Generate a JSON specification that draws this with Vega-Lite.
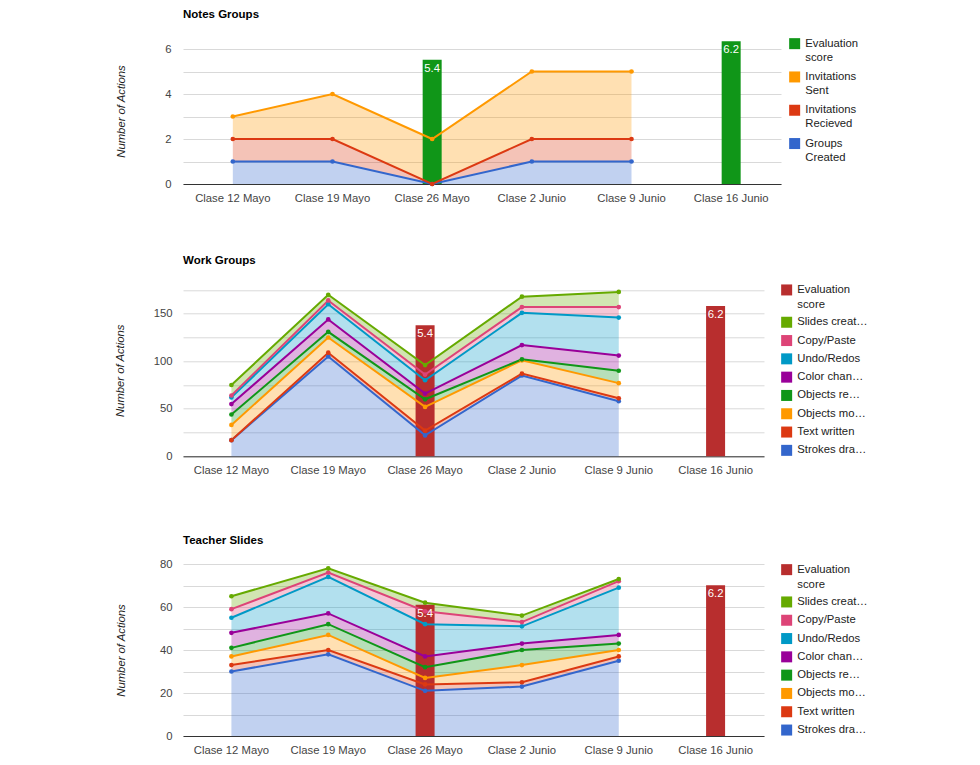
{
  "$schema": "https://vega.github.io/schema/vega-lite/v6.json",
  "padding": {"left": 114, "top": 8, "right": 0, "bottom": 0},
  "background": "white",
  "datasets": {
    "notes": [
      {"c": "Clase 12 Mayo", "s": "Groups Created", "k": 0, "v": 1},
      {"c": "Clase 12 Mayo", "s": "Invitations Recieved", "k": 1, "v": 1},
      {"c": "Clase 12 Mayo", "s": "Invitations Sent", "k": 2, "v": 1},
      {"c": "Clase 19 Mayo", "s": "Groups Created", "k": 0, "v": 1},
      {"c": "Clase 19 Mayo", "s": "Invitations Recieved", "k": 1, "v": 1},
      {"c": "Clase 19 Mayo", "s": "Invitations Sent", "k": 2, "v": 2},
      {"c": "Clase 26 Mayo", "s": "Groups Created", "k": 0, "v": 0},
      {"c": "Clase 26 Mayo", "s": "Invitations Recieved", "k": 1, "v": 0},
      {"c": "Clase 26 Mayo", "s": "Invitations Sent", "k": 2, "v": 2},
      {"c": "Clase 2 Junio", "s": "Groups Created", "k": 0, "v": 1},
      {"c": "Clase 2 Junio", "s": "Invitations Recieved", "k": 1, "v": 1},
      {"c": "Clase 2 Junio", "s": "Invitations Sent", "k": 2, "v": 3},
      {"c": "Clase 9 Junio", "s": "Groups Created", "k": 0, "v": 1},
      {"c": "Clase 9 Junio", "s": "Invitations Recieved", "k": 1, "v": 1},
      {"c": "Clase 9 Junio", "s": "Invitations Sent", "k": 2, "v": 3}
    ],
    "work": [
      {"c": "Clase 12 Mayo", "s": "Strokes dra…", "k": 0, "v": 17},
      {"c": "Clase 12 Mayo", "s": "Text written", "k": 1, "v": 0},
      {"c": "Clase 12 Mayo", "s": "Objects mo…", "k": 2, "v": 16},
      {"c": "Clase 12 Mayo", "s": "Objects re…", "k": 3, "v": 11},
      {"c": "Clase 12 Mayo", "s": "Color chan…", "k": 4, "v": 11},
      {"c": "Clase 12 Mayo", "s": "Undo/Redos", "k": 5, "v": 7},
      {"c": "Clase 12 Mayo", "s": "Copy/Paste", "k": 6, "v": 2},
      {"c": "Clase 12 Mayo", "s": "Slides creat…", "k": 7, "v": 11},
      {"c": "Clase 19 Mayo", "s": "Strokes dra…", "k": 0, "v": 105},
      {"c": "Clase 19 Mayo", "s": "Text written", "k": 1, "v": 4},
      {"c": "Clase 19 Mayo", "s": "Objects mo…", "k": 2, "v": 16},
      {"c": "Clase 19 Mayo", "s": "Objects re…", "k": 3, "v": 6},
      {"c": "Clase 19 Mayo", "s": "Color chan…", "k": 4, "v": 13},
      {"c": "Clase 19 Mayo", "s": "Undo/Redos", "k": 5, "v": 16},
      {"c": "Clase 19 Mayo", "s": "Copy/Paste", "k": 6, "v": 4},
      {"c": "Clase 19 Mayo", "s": "Slides creat…", "k": 7, "v": 6},
      {"c": "Clase 26 Mayo", "s": "Strokes dra…", "k": 0, "v": 22},
      {"c": "Clase 26 Mayo", "s": "Text written", "k": 1, "v": 5},
      {"c": "Clase 26 Mayo", "s": "Objects mo…", "k": 2, "v": 25},
      {"c": "Clase 26 Mayo", "s": "Objects re…", "k": 3, "v": 8},
      {"c": "Clase 26 Mayo", "s": "Color chan…", "k": 4, "v": 6},
      {"c": "Clase 26 Mayo", "s": "Undo/Redos", "k": 5, "v": 14},
      {"c": "Clase 26 Mayo", "s": "Copy/Paste", "k": 6, "v": 6},
      {"c": "Clase 26 Mayo", "s": "Slides creat…", "k": 7, "v": 10},
      {"c": "Clase 2 Junio", "s": "Strokes dra…", "k": 0, "v": 85},
      {"c": "Clase 2 Junio", "s": "Text written", "k": 1, "v": 2},
      {"c": "Clase 2 Junio", "s": "Objects mo…", "k": 2, "v": 14},
      {"c": "Clase 2 Junio", "s": "Objects re…", "k": 3, "v": 1},
      {"c": "Clase 2 Junio", "s": "Color chan…", "k": 4, "v": 15},
      {"c": "Clase 2 Junio", "s": "Undo/Redos", "k": 5, "v": 34},
      {"c": "Clase 2 Junio", "s": "Copy/Paste", "k": 6, "v": 6},
      {"c": "Clase 2 Junio", "s": "Slides creat…", "k": 7, "v": 11},
      {"c": "Clase 9 Junio", "s": "Strokes dra…", "k": 0, "v": 58},
      {"c": "Clase 9 Junio", "s": "Text written", "k": 1, "v": 3},
      {"c": "Clase 9 Junio", "s": "Objects mo…", "k": 2, "v": 16},
      {"c": "Clase 9 Junio", "s": "Objects re…", "k": 3, "v": 13},
      {"c": "Clase 9 Junio", "s": "Color chan…", "k": 4, "v": 16},
      {"c": "Clase 9 Junio", "s": "Undo/Redos", "k": 5, "v": 40},
      {"c": "Clase 9 Junio", "s": "Copy/Paste", "k": 6, "v": 11},
      {"c": "Clase 9 Junio", "s": "Slides creat…", "k": 7, "v": 16}
    ],
    "teacher": [
      {"c": "Clase 12 Mayo", "s": "Strokes dra…", "k": 0, "v": 30},
      {"c": "Clase 12 Mayo", "s": "Text written", "k": 1, "v": 3},
      {"c": "Clase 12 Mayo", "s": "Objects mo…", "k": 2, "v": 4},
      {"c": "Clase 12 Mayo", "s": "Objects re…", "k": 3, "v": 4},
      {"c": "Clase 12 Mayo", "s": "Color chan…", "k": 4, "v": 7},
      {"c": "Clase 12 Mayo", "s": "Undo/Redos", "k": 5, "v": 7},
      {"c": "Clase 12 Mayo", "s": "Copy/Paste", "k": 6, "v": 4},
      {"c": "Clase 12 Mayo", "s": "Slides creat…", "k": 7, "v": 6},
      {"c": "Clase 19 Mayo", "s": "Strokes dra…", "k": 0, "v": 38},
      {"c": "Clase 19 Mayo", "s": "Text written", "k": 1, "v": 2},
      {"c": "Clase 19 Mayo", "s": "Objects mo…", "k": 2, "v": 7},
      {"c": "Clase 19 Mayo", "s": "Objects re…", "k": 3, "v": 5},
      {"c": "Clase 19 Mayo", "s": "Color chan…", "k": 4, "v": 5},
      {"c": "Clase 19 Mayo", "s": "Undo/Redos", "k": 5, "v": 17},
      {"c": "Clase 19 Mayo", "s": "Copy/Paste", "k": 6, "v": 2},
      {"c": "Clase 19 Mayo", "s": "Slides creat…", "k": 7, "v": 2},
      {"c": "Clase 26 Mayo", "s": "Strokes dra…", "k": 0, "v": 21},
      {"c": "Clase 26 Mayo", "s": "Text written", "k": 1, "v": 3},
      {"c": "Clase 26 Mayo", "s": "Objects mo…", "k": 2, "v": 3},
      {"c": "Clase 26 Mayo", "s": "Objects re…", "k": 3, "v": 5},
      {"c": "Clase 26 Mayo", "s": "Color chan…", "k": 4, "v": 5},
      {"c": "Clase 26 Mayo", "s": "Undo/Redos", "k": 5, "v": 15},
      {"c": "Clase 26 Mayo", "s": "Copy/Paste", "k": 6, "v": 6},
      {"c": "Clase 26 Mayo", "s": "Slides creat…", "k": 7, "v": 4},
      {"c": "Clase 2 Junio", "s": "Strokes dra…", "k": 0, "v": 23},
      {"c": "Clase 2 Junio", "s": "Text written", "k": 1, "v": 2},
      {"c": "Clase 2 Junio", "s": "Objects mo…", "k": 2, "v": 8},
      {"c": "Clase 2 Junio", "s": "Objects re…", "k": 3, "v": 7},
      {"c": "Clase 2 Junio", "s": "Color chan…", "k": 4, "v": 3},
      {"c": "Clase 2 Junio", "s": "Undo/Redos", "k": 5, "v": 8},
      {"c": "Clase 2 Junio", "s": "Copy/Paste", "k": 6, "v": 2},
      {"c": "Clase 2 Junio", "s": "Slides creat…", "k": 7, "v": 3},
      {"c": "Clase 9 Junio", "s": "Strokes dra…", "k": 0, "v": 35},
      {"c": "Clase 9 Junio", "s": "Text written", "k": 1, "v": 2},
      {"c": "Clase 9 Junio", "s": "Objects mo…", "k": 2, "v": 3},
      {"c": "Clase 9 Junio", "s": "Objects re…", "k": 3, "v": 3},
      {"c": "Clase 9 Junio", "s": "Color chan…", "k": 4, "v": 4},
      {"c": "Clase 9 Junio", "s": "Undo/Redos", "k": 5, "v": 22},
      {"c": "Clase 9 Junio", "s": "Copy/Paste", "k": 6, "v": 3},
      {"c": "Clase 9 Junio", "s": "Slides creat…", "k": 7, "v": 1}
    ],
    "scores": [
      {"c": "Clase 26 Mayo", "s": "Evaluation score", "score": 5.4},
      {"c": "Clase 16 Junio", "s": "Evaluation score", "score": 6.2}
    ]
  },
  "vconcat": [
    {
      "vconcat": [
        {
          "title": {"text": "Notes Groups", "offset": 18},
          "width": 598,
          "height": 146,
          "encoding": {
            "x": {"field": "c", "type": "nominal", "sort": ["Clase 12 Mayo", "Clase 19 Mayo", "Clase 26 Mayo", "Clase 2 Junio", "Clase 9 Junio", "Clase 16 Junio"], "scale": {"paddingInner": 0, "paddingOuter": 0}, "axis": {"title": null, "labelAngle": 0}},
            "color": {"field": "s", "type": "nominal", "scale": {"domain": ["Evaluation score", "Invitations Sent", "Invitations Recieved", "Groups Created"], "range": ["#109618", "#ff9900", "#dc3912", "#3366cc"]},
              "legend": {"offset": 8, "rowPadding": 7.3, "labelExpr": "split(datum.label, ' ')", "encode": {"labels": {"update": {"dy": {"value": -6}, "lineHeight": {"value": 14}}}, "symbols": {"update": {"fillOpacity": {"value": 1}, "opacity": {"value": 1}, "strokeWidth": {"value": 0}}}}}}
          },
          "layer": [
            {
              "data": {"name": "notes"},
              "transform": [{"stack": "v", "groupby": ["c"], "sort": [{"field": "k", "order": "ascending"}], "as": ["y0", "y1"]}],
              "mark": {"type": "area", "fillOpacity": 0.3},
              "encoding": {
                "y": {"field": "y1", "type": "quantitative", "scale": {"domain": [0, 6.49], "nice": false}, "axis": {"title": "Number of Actions", "values": [0, 1, 2, 3, 4, 5, 6], "labelExpr": "datum.value % 2 == 0 ? datum.label : ''", "titlePadding": 38, "labelPadding": 12}},
                "y2": {"field": "y0"}
              }
            },
            {
              "data": {"name": "scores"},
              "mark": {"type": "bar", "size": 19},
              "encoding": {
                "y": {"field": "score", "type": "quantitative", "scale": {"domain": [0, 6.34], "nice": false}, "axis": null}
              }
            },
            {
              "data": {"name": "notes"},
              "transform": [{"stack": "v", "groupby": ["c"], "sort": [{"field": "k", "order": "ascending"}], "as": ["y0", "y1"]}],
              "mark": {"type": "line", "strokeWidth": 2, "point": {"size": 22, "filled": true}},
              "encoding": {
                "y": {"field": "y1", "type": "quantitative", "scale": {"domain": [0, 6.49], "nice": false}, "axis": null}
              }
            },
            {
              "data": {"name": "scores"},
              "mark": {"type": "text", "baseline": "top", "dy": 3, "fontSize": 11.3},
              "encoding": {
                "y": {"field": "score", "type": "quantitative", "scale": {"domain": [0, 6.34], "nice": false}, "axis": null},
                "text": {"field": "score", "type": "quantitative", "format": ".1f"},
                "color": {"value": "white"}
              }
            }
          ],
          "resolve": {"scale": {"y": "independent"}}
        },
        {
          "title": {"text": "Work Groups", "offset": 18},
          "width": 581,
          "height": 172,
          "encoding": {
            "x": {"field": "c", "type": "nominal", "sort": ["Clase 12 Mayo", "Clase 19 Mayo", "Clase 26 Mayo", "Clase 2 Junio", "Clase 9 Junio", "Clase 16 Junio"], "scale": {"paddingInner": 0, "paddingOuter": 0}, "axis": {"title": null, "labelAngle": 0}},
            "color": {"field": "s", "type": "nominal", "scale": {"domain": ["Evaluation score", "Slides creat…", "Copy/Paste", "Undo/Redos", "Color chan…", "Objects re…", "Objects mo…", "Text written", "Strokes dra…"], "range": ["#b82e2e", "#66aa00", "#dd4477", "#0099c6", "#990099", "#109618", "#ff9900", "#dc3912", "#3366cc"]},
              "legend": {"offset": 16.7, "labelExpr": "datum.label == 'Evaluation score' ? ['Evaluation', 'score'] : datum.label", "encode": {"labels": {"update": {"dy": {"value": -6}, "lineHeight": {"value": 15}}}, "symbols": {"update": {"fillOpacity": {"value": 1}, "opacity": {"value": 1}, "strokeWidth": {"value": 0}}}}}}
          },
          "layer": [
            {
              "data": {"name": "work"},
              "transform": [{"stack": "v", "groupby": ["c"], "sort": [{"field": "k", "order": "ascending"}], "as": ["y0", "y1"]}],
              "mark": {"type": "area", "fillOpacity": 0.3},
              "encoding": {
                "y": {"field": "y1", "type": "quantitative", "scale": {"domain": [0, 181], "nice": false}, "axis": {"title": "Number of Actions", "values": [0, 25, 50, 75, 100, 125, 150, 175], "labelExpr": "datum.value % 50 == 0 ? datum.label : ''", "titlePadding": 28}},
                "y2": {"field": "y0"}
              }
            },
            {
              "data": {"name": "scores"},
              "mark": {"type": "bar", "size": 19},
              "encoding": {
                "y": {"field": "score", "type": "quantitative", "scale": {"domain": [0, 7.09], "nice": false}, "axis": null}
              }
            },
            {
              "data": {"name": "work"},
              "transform": [{"stack": "v", "groupby": ["c"], "sort": [{"field": "k", "order": "ascending"}], "as": ["y0", "y1"]}],
              "mark": {"type": "line", "strokeWidth": 2, "point": {"size": 22, "filled": true}},
              "encoding": {
                "y": {"field": "y1", "type": "quantitative", "scale": {"domain": [0, 181], "nice": false}, "axis": null}
              }
            },
            {
              "data": {"name": "scores"},
              "mark": {"type": "text", "baseline": "top", "dy": 3, "fontSize": 11.3},
              "encoding": {
                "y": {"field": "score", "type": "quantitative", "scale": {"domain": [0, 7.09], "nice": false}, "axis": null},
                "text": {"field": "score", "type": "quantitative", "format": ".1f"},
                "color": {"value": "white"}
              }
            }
          ],
          "resolve": {"scale": {"y": "independent"}}
        }
      ],
      "spacing": 50.3,
      "resolve": {"scale": {"color": "independent"}, "legend": {"color": "independent"}}
    },
    {
      "title": {"text": "Teacher Slides", "offset": 12},
      "width": 581,
      "height": 172,
      "encoding": {
        "x": {"field": "c", "type": "nominal", "sort": ["Clase 12 Mayo", "Clase 19 Mayo", "Clase 26 Mayo", "Clase 2 Junio", "Clase 9 Junio", "Clase 16 Junio"], "scale": {"paddingInner": 0, "paddingOuter": 0}, "axis": {"title": null, "labelAngle": 0}},
        "color": {"field": "s", "type": "nominal", "scale": {"domain": ["Evaluation score", "Slides creat…", "Copy/Paste", "Undo/Redos", "Color chan…", "Objects re…", "Objects mo…", "Text written", "Strokes dra…"], "range": ["#b82e2e", "#66aa00", "#dd4477", "#0099c6", "#990099", "#109618", "#ff9900", "#dc3912", "#3366cc"]},
          "legend": {"offset": 16.7, "labelExpr": "datum.label == 'Evaluation score' ? ['Evaluation', 'score'] : datum.label", "encode": {"labels": {"update": {"dy": {"value": -6}, "lineHeight": {"value": 15}}}, "symbols": {"update": {"fillOpacity": {"value": 1}, "opacity": {"value": 1}, "strokeWidth": {"value": 0}}}}}}
      },
      "layer": [
        {
          "data": {"name": "teacher"},
          "transform": [{"stack": "v", "groupby": ["c"], "sort": [{"field": "k", "order": "ascending"}], "as": ["y0", "y1"]}],
          "mark": {"type": "area", "fillOpacity": 0.3},
          "encoding": {
            "y": {"field": "y1", "type": "quantitative", "scale": {"domain": [0, 80], "nice": false}, "axis": {"title": "Number of Actions", "values": [0, 10, 20, 30, 40, 50, 60, 70, 80], "labelExpr": "datum.value % 20 == 0 ? datum.label : ''", "titlePadding": 33}},
            "y2": {"field": "y0"}
          }
        },
        {
          "data": {"name": "scores"},
          "mark": {"type": "bar", "size": 19},
          "encoding": {
            "y": {"field": "score", "type": "quantitative", "scale": {"domain": [0, 7.07], "nice": false}, "axis": null}
          }
        },
        {
          "data": {"name": "teacher"},
          "transform": [{"stack": "v", "groupby": ["c"], "sort": [{"field": "k", "order": "ascending"}], "as": ["y0", "y1"]}],
          "mark": {"type": "line", "strokeWidth": 2, "point": {"size": 22, "filled": true}},
          "encoding": {
            "y": {"field": "y1", "type": "quantitative", "scale": {"domain": [0, 80], "nice": false}, "axis": null}
          }
        },
        {
          "data": {"name": "scores"},
          "mark": {"type": "text", "baseline": "top", "dy": 3, "fontSize": 11.3},
          "encoding": {
            "y": {"field": "score", "type": "quantitative", "scale": {"domain": [0, 7.07], "nice": false}, "axis": null},
            "text": {"field": "score", "type": "quantitative", "format": ".1f"},
            "color": {"value": "white"}
          }
        }
      ],
      "resolve": {"scale": {"y": "independent"}}
    }
  ],
  "spacing": 58,
  "resolve": {"scale": {"color": "independent"}, "legend": {"color": "independent"}},
  "config": {
    "view": {"stroke": null},
    "font": "Liberation Sans",
    "title": {"anchor": "start", "frame": "group", "fontSize": 11.5, "fontWeight": "bold", "color": "#000000", "baseline": "alphabetic", "offset": 18},
    "axis": {"labelFont": "Liberation Sans", "labelFontSize": 11.3, "labelColor": "#444444", "ticks": false, "domain": false, "gridColor": "#d9d9d9", "titleFont": "Liberation Sans", "titleFontSize": 11.3, "titleFontStyle": "italic", "titleFontWeight": "normal", "titleColor": "#222222"},
    "axisY": {"grid": true, "labelPadding": 11},
    "axisX": {"grid": false, "domain": true, "domainColor": "#333333", "labelPadding": 8, "zindex": 1},
    "legend": {"orient": "right", "title": null, "symbolType": "square", "symbolSize": 121, "symbolStrokeWidth": 0, "labelFont": "Liberation Sans", "labelFontSize": 11.3, "labelColor": "#222222", "labelOffset": 5, "labelBaseline": "top", "labelLimit": 200, "rowPadding": 5.3, "padding": 0}
  }
}
